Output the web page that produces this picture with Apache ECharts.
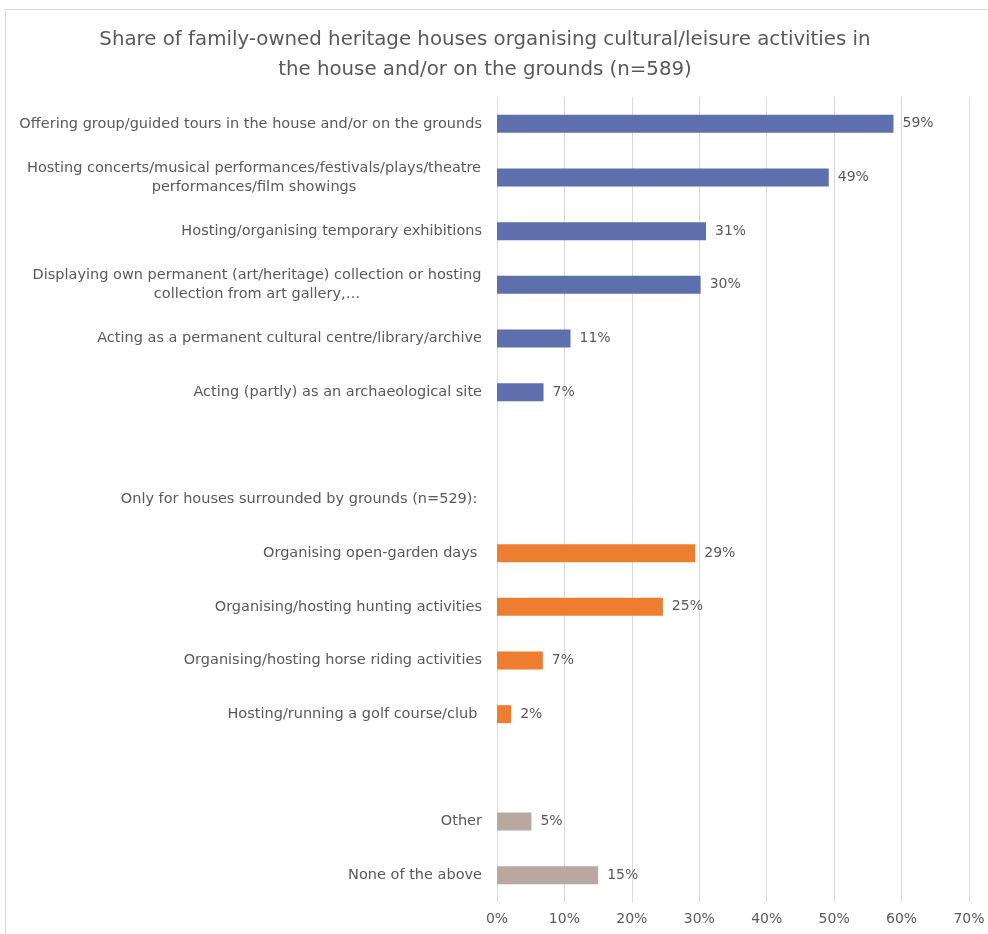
<!DOCTYPE html>
<html>
<head>
<meta charset="utf-8">
<script src="https://cdn.jsdelivr.net/npm/echarts@6/dist/echarts.min.js"></script>
<style>
    html, body { margin: 0; padding: 0; background: #fff; }
    #chart { width: 988px; height: 934px; }
</style>
</head>
<body>
<div id="chart"></div>
<script>
// categories, top to bottom ('' rows are spacer rows)
const categories = [
    'Offering group/guided tours in the house and/or on the grounds',
    'Hosting concerts/musical performances/festivals/plays/theatre\nperformances/film showings',
    'Hosting/organising temporary exhibitions',
    'Displaying own permanent (art/heritage) collection or hosting\ncollection from art gallery,…',
    'Acting as a permanent cultural centre/library/archive',
    'Acting (partly) as an archaeological site',
    '',
    'Only for houses surrounded by grounds (n=529): ',
    'Organising open-garden days ',
    'Organising/hosting hunting activities',
    'Organising/hosting horse riding activities',
    'Hosting/running a golf course/club ',
    ' ',
    'Other',
    'None of the above'
];
// share in %, one array per colour group
const houseValues   = [58.8, 49.2, 31.0, 30.2, 10.9, 6.9, null, null, null, null, null, null, null, null, null];
const groundsValues = [null, null, null, null, null, null, null, null, 29.4, 24.6, 6.8, 2.1, null, null, null];
const otherValues   = [null, null, null, null, null, null, null, null, null, null, null, null, null, 5.1, 15.0];
const xTicks = [0, 10, 20, 30, 40, 50, 60, 70];

const FONT = 'DejaVu Sans';
const LABEL_SIZE = 14.5;
const VALUE_SIZE = 14;
const TXT = '#595959';

// multi-line labels: lines centred on each other, block right-aligned
const ctx = document.createElement('canvas').getContext('2d');
ctx.font = LABEL_SIZE + 'px "' + FONT + '"';
const rich = {};
categories.forEach(function (c, i) {
    if (c.indexOf('\n') >= 0) {
        const w = Math.max.apply(null, c.split('\n').map(function (l) { return ctx.measureText(l).width; }));
        rich['c' + i] = {
            width: Math.ceil(w) + 1,
            align: 'center',
            fontSize: LABEL_SIZE,
            fontFamily: FONT,
            color: TXT,
            lineHeight: 19
        };
    }
});

let myChart = echarts.init(document.getElementById('chart'));

const barLabel = {
    show: true,
    position: 'right',
    distance: 9,
    color: TXT,
    fontSize: VALUE_SIZE,
    fontFamily: FONT,
    formatter: function (p) { return Math.round(p.value) + '%'; }
};

function barSeries(name, values, color) {
    return {
        name: name,
        type: 'bar',
        stack: 'all',
        barWidth: 18,
        data: values,
        itemStyle: { color: color },
        label: barLabel
    };
}

myChart.setOption({
    animation: false,
    textStyle: { fontFamily: FONT },
    title: {
        text: 'Share of family-owned heritage houses organising cultural/leisure activities in\nthe house and/or on the grounds (n=589)',
        left: 480,
        top: 20,
        textAlign: 'center',
        textStyle: {
            color: TXT,
            fontSize: 19.8,
            fontWeight: 'normal',
            fontFamily: FONT,
            lineHeight: 30
        }
    },
    graphic: [
        {
            type: 'rect',
            shape: { x: 5.5, y: 9.5, width: 1000, height: 1000 },
            style: { fill: null, stroke: '#d9d9d9', lineWidth: 1 },
            silent: true
        }
    ],
    grid: {
        left: 497,
        right: 19,
        top: 97,
        bottom: 32,
        containLabel: false
    },
    xAxis: {
        type: 'value',
        min: xTicks[0],
        max: xTicks[xTicks.length - 1],
        interval: xTicks[1] - xTicks[0],
        axisLine: { show: false },
        axisTick: { show: false },
        axisLabel: {
            color: TXT,
            fontSize: VALUE_SIZE,
            fontFamily: FONT,
            margin: 10,
            formatter: '{value}%'
        },
        splitLine: { lineStyle: { color: '#d9d9d9', width: 1 } }
    },
    yAxis: {
        type: 'category',
        inverse: true,
        data: categories,
        axisLine: { show: false },
        axisTick: { show: false },
        axisLabel: {
            color: TXT,
            fontSize: LABEL_SIZE,
            fontFamily: FONT,
            margin: 15,
            interval: 0,
            rich: rich,
            formatter: function (value, index) {
                if (value.indexOf('\n') < 0) return value;
                return value.split('\n').map(function (l) { return '{c' + index + '|' + l + '}'; }).join('\n');
            }
        }
    },
    series: [
        barSeries('House', houseValues, '#5E6FAE'),
        barSeries('Grounds', groundsValues, '#ED7D31'),
        barSeries('Other', otherValues, '#B8A89F')
    ]
});
</script>
</body>
</html>
